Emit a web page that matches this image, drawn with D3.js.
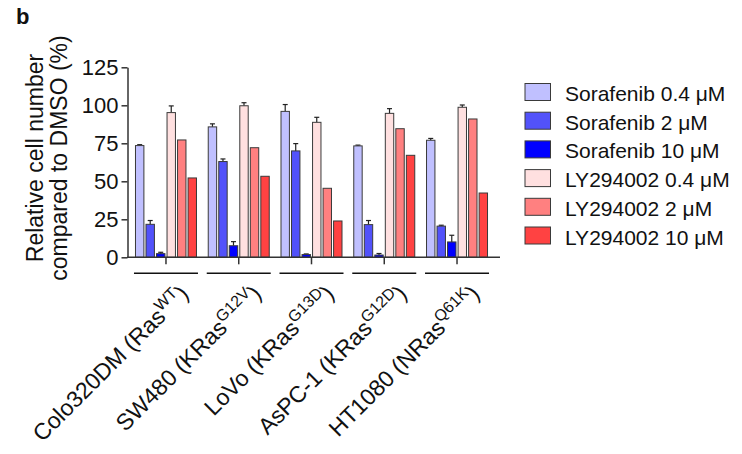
<!DOCTYPE html>
<html>
<head>
<meta charset="utf-8" />
<title>Relative cell number</title>
<style>
  body { margin: 0; background: #fff; }
  svg text { font-family: "Liberation Sans", Arial, sans-serif; fill: #111; }
</style>
</head>
<body>
<div id="chart"></div>
<script src="https://d3js.org/d3.v7.min.js"></script>
<script>
// cell lines and their Ras status (label = name + (gene^mutation))
const cellLines = ["Colo320DM", "SW480", "LoVo", "AsPC-1", "HT1080"];
const rasGene = ["Ras", "KRas", "KRas", "KRas", "NRas"];
const rasMut = ["WT", "G12V", "G13D", "G12D", "Q61K"];

const seriesNames = ["Sorafenib 0.4 \u03bcM", "Sorafenib 2 \u03bcM", "Sorafenib 10 \u03bcM",
                     "LY294002 0.4 \u03bcM", "LY294002 2 \u03bcM", "LY294002 10 \u03bcM"];
const seriesColors = ["#c0c0ff", "#5252fa", "#0000ff", "#ffe0e0", "#ff8080", "#ff4242"];

// values (% of DMSO) per cell line, and upper error
const sora04 = [73.5, 85.8, 96.0, 73.3, 77.0];
const sora04Err = [0.6, 2.0, 4.5, 0.5, 1.2];
const sora2 = [21.7, 63.0, 70.0, 21.5, 20.5];
const sora2Err = [2.5, 1.7, 4.8, 2.7, 0.6];
const sora10 = [2.4, 7.6, 1.8, 1.5, 10.1];
const sora10Err = [0.9, 2.7, 0.4, 1.0, 4.4];
const ly04 = [95.2, 99.7, 88.8, 94.7, 98.7];
const ly04Err = [4.4, 2.0, 3.3, 3.1, 1.5];
const ly2 = [77.2, 72.1, 45.4, 84.6, 91.0];
const ly2Err = [0, 0, 0, 0, 0];
const ly10 = [52.2, 53.3, 23.9, 67.1, 42.3];
const ly10Err = [0, 0, 0, 0, 0];

const yTicks = [0, 25, 50, 75, 100, 125];

const allValues = [sora04, sora2, sora10, ly04, ly2, ly10];
const allErrs = [sora04Err, sora2Err, sora10Err, ly04Err, ly2Err, ly10Err];

const width = 742, height = 454;

const svg = d3.select("#chart").append("svg")
  .attr("width", width)
  .attr("height", height);

svg.append("rect").attr("width", width).attr("height", height).attr("fill", "#fff");

// scales
const y = d3.scaleLinear().domain([0, 125]).range([257.3, 67.3]);
const x0 = d3.scaleBand().domain(cellLines).range([129.6, 493.4]);
const x1 = d3.scaleBand().domain(d3.range(6)).range([-30.5, 30.5]).paddingInner(0.2);

// flatten into records
const bars = [];
cellLines.forEach((c, i) => {
  allValues.forEach((vals, s) => {
    bars.push({ cell: c, s: s, v: vals[i], e: allErrs[s][i] });
  });
});

const centre = c => x0(c) + x0.bandwidth() / 2;

// error bars (upward only)
const errG = svg.append("g");
bars.filter(d => d.e > 0).forEach(d => {
  const cx = centre(d.cell) + x1(d.s) + x1.bandwidth() / 2;
  errG.append("line")
    .attr("x1", cx).attr("x2", cx)
    .attr("y1", y(d.v)).attr("y2", y(d.v + d.e))
    .attr("stroke", "#222").attr("stroke-width", 1.2);
  errG.append("line")
    .attr("x1", cx - 2.5).attr("x2", cx + 2.5)
    .attr("y1", y(d.v + d.e)).attr("y2", y(d.v + d.e))
    .attr("stroke", "#222").attr("stroke-width", 1.2);
});

// bars
svg.append("g").selectAll("rect")
  .data(bars)
  .join("rect")
  .attr("x", d => centre(d.cell) + x1(d.s))
  .attr("y", d => y(d.v))
  .attr("width", x1.bandwidth())
  .attr("height", d => y(0) - y(d.v))
  .attr("fill", d => seriesColors[d.s])
  .attr("stroke", "#3a3a3a")
  .attr("stroke-width", 1);

// y axis
const yAxis = svg.append("g")
  .attr("transform", "translate(127.5,0)")
  .call(d3.axisLeft(y).tickValues(yTicks).tickSize(6).tickSizeOuter(0).tickPadding(3));
yAxis.selectAll("text").style("font-size", "22px").attr("fill", "#111");
yAxis.selectAll("line,path").attr("stroke", "#333").attr("stroke-width", 1.5);

// x axis: ticks at group centres, baseline drawn a little longer
const xAxis = svg.append("g")
  .attr("transform", "translate(0," + y(0) + ")")
  .call(d3.axisBottom(x0).tickSize(7).tickSizeOuter(0).tickFormat(""));
xAxis.select(".domain").remove();
xAxis.selectAll("line").attr("stroke", "#333").attr("stroke-width", 1.5);
svg.append("line")
  .attr("x1", 127).attr("x2", 500)
  .attr("y1", y(0)).attr("y2", y(0))
  .attr("stroke", "#333").attr("stroke-width", 1.5);

// group underlines
svg.append("g").selectAll("line")
  .data(cellLines)
  .join("line")
  .attr("x1", d => centre(d) - 32)
  .attr("x2", d => centre(d) + 32)
  .attr("y1", 273.3).attr("y2", 273.3)
  .attr("stroke", "#111").attr("stroke-width", 1.6);

// rotated cell line labels with superscript mutation
cellLines.forEach((c, i) => {
  const t = svg.append("text")
    .attr("transform", `translate(${centre(c) + 24},295) rotate(-45)`)
    .attr("text-anchor", "end")
    .style("font-size", "23px");
  t.append("tspan").text(c + " (" + rasGene[i]);
  t.append("tspan").attr("dy", -9).style("font-size", "16px").text(rasMut[i]);
  t.append("tspan").attr("dy", 9).text(")");
});

// y axis title
const yTitle = svg.append("text")
  .attr("transform", "translate(43,158) rotate(-90)")
  .attr("text-anchor", "middle")
  .style("font-size", "23px");
yTitle.append("tspan").attr("x", 0).attr("dy", 0).text("Relative cell number");
yTitle.append("tspan").attr("x", 0).attr("dy", 24).text("compared to DMSO (%)");

// panel letter
svg.append("text")
  .attr("x", 16).attr("y", 24)
  .style("font-size", "22px").style("font-weight", "bold")
  .text("b");

// legend
const legend = svg.append("g").attr("transform", "translate(525,83.5)");
const rows = legend.selectAll("g")
  .data(seriesNames)
  .join("g")
  .attr("transform", (d, i) => `translate(0,${i * 28.7})`);
rows.append("rect")
  .attr("width", 25.5).attr("height", 17)
  .attr("fill", (d, i) => seriesColors[i])
  .attr("stroke", "#3a3a3a").attr("stroke-width", 1);
rows.append("text")
  .attr("x", 40).attr("y", 17.5)
  .style("font-size", "21px")
  .text(d => d);
</script>
</body>
</html>
